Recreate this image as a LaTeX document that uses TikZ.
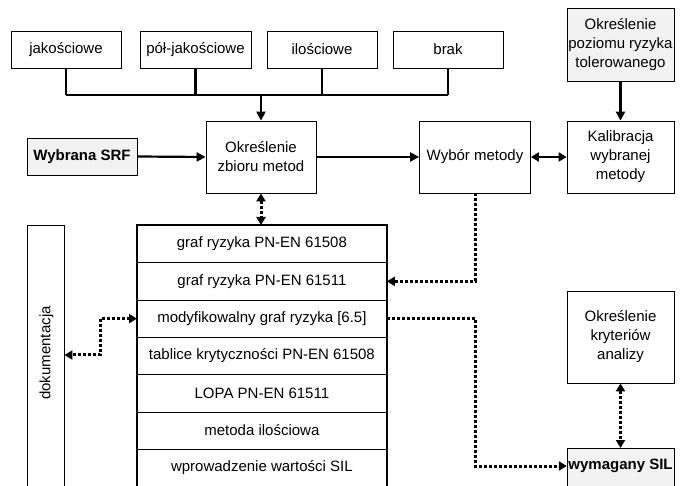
\documentclass[tikz,border=0pt]{standalone}
\usepackage{fontspec}
\setmainfont{Liberation Sans}
\usetikzlibrary{arrows.meta}
\begin{document}
\begin{tikzpicture}[x=1pt,y=-1pt,
 every node/.style={font=\fontsize{15}{19}\selectfont, inner sep=0pt, align=center},
 box/.style={draw, line width=0.8pt, fill=white},
 graybox/.style={box, fill=gray!10},
 rowbox/.style={draw, line width=0.8pt, minimum width=249pt, minimum height=37.3pt, anchor=north west},
 conn/.style={line width=2.2pt, -{Triangle[length=9pt,width=9pt]}},
 bus/.style={line width=2.2pt},
 dotln/.style={line width=3pt, dash pattern=on 3pt off 2pt},
 tip/.tip={Triangle[length=8pt,width=9pt]},
]
\clip (0,0) rectangle (683,486);
\fill[white] (0,0) rectangle (683,486);

% top category boxes
\node[box, minimum width=110pt, minimum height=37pt] (jak) at (66,49.5) {jakościowe};
\node[box, minimum width=111pt, minimum height=37pt] (pol) at (195.5,49.5) {pół-jakościowe};
\node[box, minimum width=110pt, minimum height=37pt] (ilo) at (322,49.5) {ilościowe};
\node[box, minimum width=110pt, minimum height=37pt] (brak) at (448,49.5) {brak};

% middle row
\node[graybox, minimum width=110pt, minimum height=37pt, font=\fontsize{15}{19}\selectfont\bfseries] (srf) at (82,156.5) {Wybrana SRF};
\node[box, minimum width=110pt, minimum height=72pt] (zb) at (261,157) {Określenie\\zbioru metod};
\node[box, minimum width=111pt, minimum height=72pt] (wyb) at (475,157) {Wybór metody};
\node[box, minimum width=107pt, minimum height=72pt] (kal) at (620.5,157) {Kalibracja\\wybranej\\metody};
\node[graybox, minimum width=107pt, minimum height=73.5pt] (poz) at (620.5,45) {Określenie\\poziomu ryzyka\\tolerowanego};

% bus
\coordinate (busL) at (66,95);
\coordinate (busR) at (448,95);
\draw[bus] (jak.south) -- (jak.south |- busL);
\draw[bus] (pol.south) -- (pol.south |- busL);
\draw[bus] (ilo.south) -- (ilo.south |- busL);
\draw[bus] (brak.south) -- (brak.south |- busL);
\draw[bus] (busL) -- (busR);
\draw[conn] (zb.north |- busL) -- (zb.north);

\draw[conn] (srf.east) -- (zb.west);
\draw[conn] (zb.east) -- (wyb.west);
\draw[line width=2.2pt, tip-tip] (wyb.east) -- (kal.west);
\draw[conn] (poz.south) -- (kal.north);

% list of methods
\node[rowbox] (r1) at (137,225) {graf ryzyka PN-EN 61508};
\node[rowbox] (r2) at (137,262.3) {graf ryzyka PN-EN 61511};
\node[rowbox] (r3) at (137,299.6) {modyfikowalny graf ryzyka [6.5]};
\node[rowbox] (r4) at (137,336.9) {tablice krytyczności PN-EN 61508};
\node[rowbox] (r5) at (137,374.2) {LOPA PN-EN 61511};
\node[rowbox] (r6) at (137,411.5) {metoda ilościowa};
\node[rowbox] (r7) at (137,448.8) {wprowadzenie wartości SIL};
\draw[line width=1.8pt] (r1.north west) rectangle (r7.south east);

% dokumentacja
\node[box, minimum width=37pt, minimum height=265pt] (dok) at (45.5,357.5) {};
\node[rotate=90] (doklab) at (46.5,353) {dokumentacja};

% right lower
\node[box, minimum width=107pt, minimum height=92pt] (kry) at (620.5,337) {Określenie\\kryteriów\\analizy};
\draw[line width=0.8pt, fill=gray!10] (567,448) rectangle (674,495);
\node[minimum width=107pt, minimum height=36pt, font=\fontsize{15}{19}\selectfont\bfseries] (sil) at (620.5,466) {wymagany SIL};

% dotted connectors
\draw[dotln, tip-tip] (zb.south) -- (r1.north -| zb.south);
\draw[dotln, -tip] (wyb.south) |- (r2.east);
\coordinate (mid) at (wyb.south |- r3.east);
\draw[dotln, -tip] (r3.east) -- (mid) |- (sil.west);
\coordinate (lmid) at (100,0);
\draw[dotln, tip-tip] (r3.west) -- (r3.west -| lmid) |- (dok.east |- 0,355);
\draw[dotln, tip-tip] (kry.south) -- (sil.north |- 0,448);
\end{tikzpicture}
\end{document}
